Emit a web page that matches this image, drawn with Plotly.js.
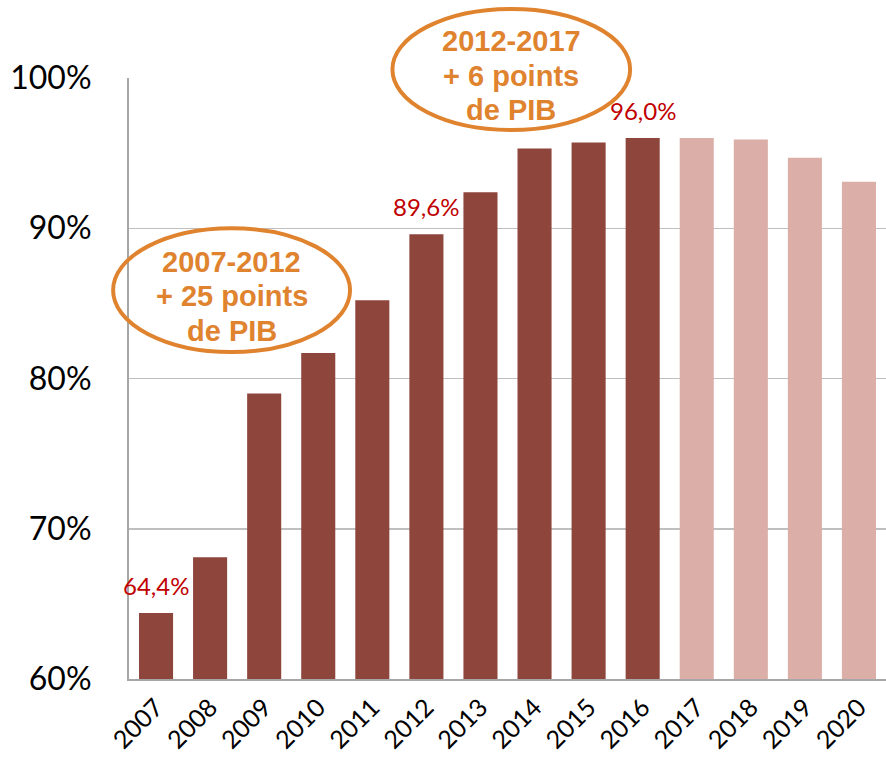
<!DOCTYPE html>
<html>
<head>
<meta charset="utf-8">
<script src="https://cdn.plot.ly/plotly-3.0.1.min.js"></script>
<style>html,body{margin:0;padding:0;background:#fff;}#chart{width:886px;height:759px;}</style>
</head>
<body>
<div id="chart"></div>
<script>
const years = ['2007','2008','2009','2010','2011','2012','2013','2014','2015','2016','2017','2018','2019','2020'];
const debtRatio = [64.4, 68.1, 79.0, 81.7, 85.2, 89.6, 92.4, 95.3, 95.7, 96.0, 96.0, 95.9, 94.7, 93.1];
const isForecast = [false,false,false,false,false,false,false,false,false,false,true,true,true,true];
const labelYears = ['2007','2012','2016'];
const labelTexts = ['64,4%','89,6%','96,0%'];
const yTickVals = [60, 70, 80, 90, 100];
const yTickText = ['60%','70%','80%','90%','100%'];
const callout1Lines = ['2007-2012', '+ 25 points', 'de PIB'];
const callout2Lines = ['2012-2017', '+ 6 points', 'de PIB'];

const barColors = isForecast.map(f => f ? '#DBAFA8' : '#8E453C');

const trace = {
  type: 'bar',
  x: years,
  y: debtRatio,
  marker: {color: barColors, line: {width: 0}},
  hoverinfo: 'skip'
};

const annotations = labelYears.map((yr, i) => ({
  x: years.indexOf(yr), y: debtRatio[years.indexOf(yr)], xref: 'x', yref: 'y',
  text: labelTexts[i], showarrow: false, yanchor: 'bottom', yshift: 11,
  font: {family: 'Lato, sans-serif', size: 24, color: '#C00000'}
}));

const orange = '#E0832F';
const calloutFont = {family: 'Liberation Sans, Arial, sans-serif', size: 29, color: orange, weight: 'bold'};
const c1Y = [0.6938, 0.6373, 0.5790];
const c2Y = [1.0616, 1.0033, 0.9468];
callout1Lines.forEach((t, i) => annotations.push({
  xref: 'paper', yref: 'paper', x: 0.1355, y: c1Y[i], text: t,
  showarrow: false, xanchor: 'center', yanchor: 'middle', font: calloutFont
}));
callout2Lines.forEach((t, i) => annotations.push({
  xref: 'paper', yref: 'paper', x: 0.5049, y: c2Y[i], text: t,
  showarrow: false, xanchor: 'center', yanchor: 'middle', font: calloutFont
}));

const shapes = [
  {type: 'circle', xref: 'paper', yref: 'paper', x0: -0.021, x1: 0.292, y0: 0.544, y1: 0.750,
   line: {color: orange, width: 4}, fillcolor: 'rgba(0,0,0,0)'},
  {type: 'circle', xref: 'paper', yref: 'paper', x0: 0.348, x1: 0.662, y0: 0.9135, y1: 1.115,
   line: {color: orange, width: 4}, fillcolor: 'rgba(0,0,0,0)'}
];

const layout = {
  width: 886, height: 759,
  margin: {l: 129, r: 0, t: 78, b: 80},
  paper_bgcolor: '#fff', plot_bgcolor: '#fff',
  bargap: 0.37,
  showlegend: false,
  xaxis: {
    type: 'category',
    range: [-0.5, 13.5],
    tickangle: -45,
    tickfont: {family: 'Lato, sans-serif', size: 25, color: '#000'},
    showline: true, linecolor: '#A6A6A6', linewidth: 2,
    showgrid: false, ticks: '', ticklabelstandoff: 2
  },
  yaxis: {
    range: [60, 100],
    tickvals: yTickVals, ticktext: yTickText,
    tickfont: {family: 'Lato, sans-serif', size: 32, color: '#000'},
    showline: true, linecolor: '#A6A6A6', linewidth: 2,
    showgrid: true, gridcolor: '#BFBFBF', gridwidth: 1.5,
    zeroline: false, ticks: '', ticklabelstandoff: 29
  },
  annotations: annotations,
  shapes: shapes
};

Plotly.newPlot('chart', [trace], layout, {displayModeBar: false, staticPlot: true});
</script>
</body>
</html>
